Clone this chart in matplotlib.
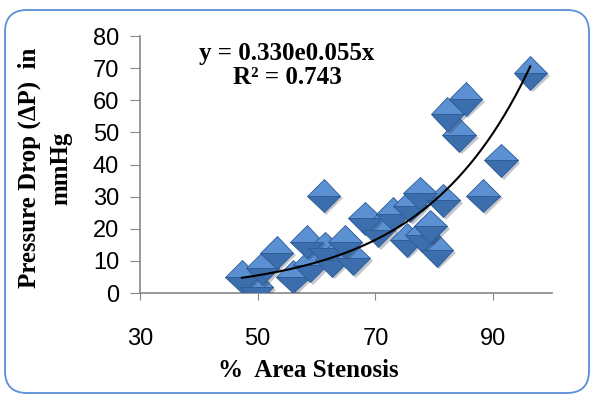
import numpy as np
import matplotlib
matplotlib.use("Agg")
import matplotlib.pyplot as plt
import matplotlib.patheffects as pe
from matplotlib.patches import FancyBboxPatch

# % area stenosis vs pressure drop (mmHg)
stenosis = [47.3, 49.8, 50.8, 53.2, 56.0, 58.3, 58.9, 61.4, 62.6, 64.8,
            66.2, 61.2, 68.2, 70.5, 73.0, 75.9, 77.6, 81.5, 75.3, 77.9,
            79.3, 80.4, 88.3, 91.3, 84.2, 82.2, 85.3, 96.3]
pressure = [5.1, 1.8, 7.7, 12.6, 5.1, 16.0, 8.7, 13.9, 10.3, 16.0,
            10.8, 30.3, 23.2, 19.6, 24.6, 27.2, 31.0, 28.8, 16.5, 18.1,
            20.8, 13.4, 30.3, 41.3, 49.2, 55.7, 60.4, 68.5]

# exponential trendline as drawn on the chart: y = a * exp(b * x)
trend_a = 0.35
trend_b = 0.0551

x_ticks = [30, 50, 70, 90]
y_ticks = [0, 10, 20, 30, 40, 50, 60, 70, 80]

plt.rcParams['font.family'] = ['Liberation Sans', 'DejaVu Sans']

fig = plt.figure(figsize=(5.92, 3.94), dpi=100)
ax = fig.add_axes([0.2365, 0.2563, 0.696, 0.6523])

# chart border with rounded corners
border = FancyBboxPatch((0.05, 0.01), 5.84, 3.83,
                        boxstyle="round,pad=0,rounding_size=0.22",
                        transform=fig.dpi_scale_trans, fill=False,
                        edgecolor='#5b8fd8', linewidth=1.3)
fig.add_artist(border)

ax.plot(stenosis, pressure, ls='none', marker='D', ms=17,
        fillstyle='top', markerfacecolor='#5b90d2',
        markerfacecoloralt='#3c6dac', markeredgecolor='#2d5c96',
        markeredgewidth=0.6, zorder=3,
        path_effects=[pe.SimplePatchShadow(offset=(2, -2), alpha=0.25),
                      pe.Normal()])

xt = np.linspace(min(stenosis), max(stenosis), 200)
ax.plot(xt, trend_a * np.exp(trend_b * xt), color='black', lw=1.5, zorder=4)

ax.text(0.357, 0.885, "y = 0.330e0.055x\nR² = 0.743", transform=ax.transAxes,
        ha='center', va='center', multialignment='center', linespacing=1.05,
        fontsize=18, fontweight='bold', family='Liberation Serif')

ax.set_xlim(30, 100)
ax.set_ylim(0, 80)
ax.set_xticks(x_ticks)
ax.set_yticks(y_ticks)
ax.tick_params(axis='x', labelsize=17, length=5, pad=20, color='#868686')
ax.tick_params(axis='y', labelsize=17, length=7, pad=8, color='#868686')
for s in ['top', 'right']:
    ax.spines[s].set_visible(False)
for s in ['left', 'bottom']:
    ax.spines[s].set_color('#868686')
    ax.spines[s].set_linewidth(1.2)

ax.set_xlabel("%  Area Stenosis", fontsize=18, fontweight='bold',
              family='Liberation Serif', va='center')
ax.xaxis.set_label_coords(0.408, -0.30)
ax.set_ylabel("Pressure Drop (ΔP)  in\nmmHg", fontsize=18, fontweight='bold',
              family='Liberation Serif', va='center', linespacing=1.45)
ax.yaxis.set_label_coords(-0.2306, 0.486)

fig.savefig("out.png", dpi=100)
